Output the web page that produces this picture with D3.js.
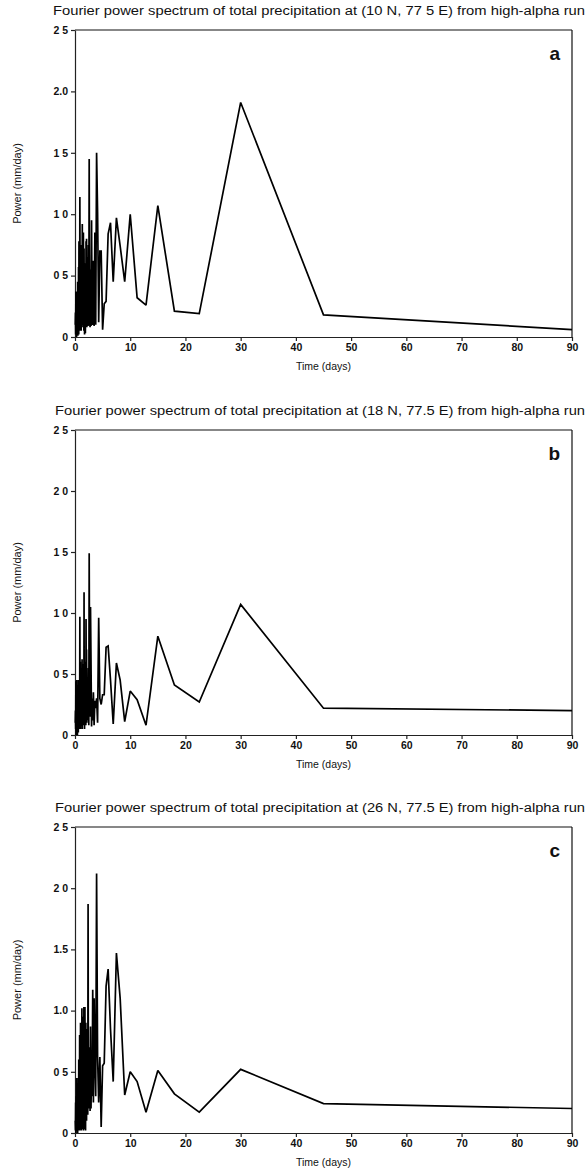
<!DOCTYPE html>
<html>
<head>
<meta charset="utf-8">
<script src="https://cdn.jsdelivr.net/npm/d3@7"></script>
<style>
  html, body { margin: 0; padding: 0; background: #fff; }
  svg { display: block; }
  text { font-family: "Liberation Sans", Arial, Helvetica, sans-serif; fill: #111; }
</style>
</head>
<body>
<svg id="chart" width="587" height="1170"></svg>
<script>
// ---------- DATA ----------
const periods = [90, 45, 30, 22.5, 18, 15, 12.86, 11.25, 10, 9,
  8.18, 7.5, 6.92, 6.43, 6, 5.63, 5.29, 5, 4.74, 4.5,
  4.29, 4.09, 3.91, 3.75, 3.6, 3.46, 3.33, 3.21, 3.1, 3,
  2.9, 2.81, 2.73, 2.65, 2.57, 2.5, 2.43, 2.37, 2.31, 2.25,
  2.2, 2.14, 2.09, 2.05, 2, 1.96, 1.91, 1.88, 1.84, 1.8,
  1.76, 1.73, 1.7, 1.67, 1.64, 1.61, 1.58, 1.55, 1.52, 1.5,
  1.45, 1.4, 1.36, 1.32, 1.28, 1.25, 1.2, 1.16, 1.12, 1.08,
  1.05, 1, 0.96, 0.92, 0.88, 0.84, 0.8, 0.76, 0.72, 0.68,
  0.64, 0.6, 0.56, 0.52, 0.48, 0.44, 0.4, 0.36, 0.32, 0.28,
  0.24, 0.2, 0.16, 0.12, 0.08, 0.04];

const powerA = [0.06, 0.18, 1.91, 0.19, 0.21, 1.07, 0.26, 0.32, 1.00, 0.45,
  0.74, 0.97, 0.45, 0.93, 0.84, 0.29, 0.27, 0.06, 0.70, 0.70,
  0.12, 1.02, 1.50, 0.10, 0.85, 0.09, 0.62, 0.10, 0.12, 0.95,
  0.09, 0.55, 0.08, 0.12, 1.45, 0.10, 0.75, 0.09, 0.40, 0.11,
  0.65, 0.08, 0.80, 0.12, 0.78, 0.10, 0.45, 0.03, 0.60, 0.15,
  0.35, 0.02, 0.55, 0.20, 0.72, 0.05, 0.40, 0.18, 0.85, 0.10,
  0.55, 0.22, 0.30, 0.92, 0.08, 0.48, 0.15, 0.75, 0.05, 0.35,
  0.18, 0.60, 0.12, 0.55, 1.14, 0.05, 0.50, 0.10, 0.78, 0.02,
  0.57, 0.08, 0.30, 0.01, 0.45, 0.05, 0.25, 0.02, 0.35, 0.00,
  0.28, 0.05, 0.37, 0.02, 0.20, 0.10];

const powerB = [0.20, 0.22, 1.07, 0.27, 0.41, 0.81, 0.08, 0.29, 0.36, 0.11,
  0.45, 0.59, 0.09, 0.45, 0.73, 0.72, 0.33, 0.33, 0.25, 0.30,
  0.96, 0.10, 0.30, 0.22, 0.28, 0.08, 0.35, 0.12, 0.30, 0.07,
  0.60, 1.05, 0.15, 0.40, 1.49, 0.08, 0.55, 0.12, 0.35, 0.20,
  0.45, 0.10, 0.70, 0.15, 0.95, 0.08, 0.40, 0.20, 0.60, 0.12,
  0.50, 0.05, 0.45, 0.15, 1.17, 0.20, 0.58, 0.08, 0.35, 0.25,
  0.55, 0.10, 0.40, 0.05, 0.62, 0.18, 0.30, 0.08, 0.45, 0.15,
  0.35, 0.05, 0.60, 0.20, 0.97, 0.10, 0.40, 0.05, 0.30, 0.15,
  0.45, 0.02, 0.30, 0.10, 0.40, 0.00, 0.25, 0.05, 0.45, 0.02,
  0.30, 0.00, 0.44, 0.05, 0.20, 0.10];

const powerC = [0.20, 0.24, 0.52, 0.17, 0.32, 0.51, 0.17, 0.42, 0.50, 0.31,
  1.10, 1.47, 0.42, 0.85, 1.34, 1.20, 0.57, 0.55, 0.05, 0.62,
  0.25, 0.62, 2.12, 0.30, 0.60, 1.10, 0.25, 1.17, 0.30, 0.55,
  0.20, 0.87, 0.18, 0.50, 0.25, 0.70, 0.20, 1.87, 0.15, 0.40,
  0.18, 0.85, 0.10, 0.60, 0.30, 0.90, 0.02, 0.55, 0.25, 1.03,
  0.03, 0.70, 0.20, 0.90, 0.05, 1.03, 0.15, 0.50, 0.02, 0.85,
  0.10, 0.95, 0.03, 0.60, 0.20, 1.02, 0.05, 0.70, 0.02, 0.85,
  0.10, 0.90, 0.03, 0.55, 0.15, 0.80, 0.02, 0.45, 0.10, 0.60,
  0.02, 0.45, 0.05, 0.35, 0.00, 0.40, 0.10, 0.20, 0.02, 0.45,
  0.05, 0.30, 0.00, 0.25, 0.02, 0.10];

const xTickValues = [0, 10, 20, 30, 40, 50, 60, 70, 80, 90];
const yTickValues = [0, 0.5, 1.0, 1.5, 2.0, 2.5];
const yTickLabelsA = ["0", "0 5", "1 0", "1 5", "2.0", "2 5"];
const yTickLabelsB = ["0", "0 5", "1 0", "1 5", "2 0", "2 5"];
const yTickLabelsC = ["0", "0 5", "1.0", "1.5", "2 0", "2 5"];

const titles = [
  "Fourier power spectrum of total precipitation at (10 N, 77 5 E) from high-alpha run",
  "Fourier power spectrum of total precipitation at (18 N, 77.5 E) from high-alpha run",
  "Fourier power spectrum of total precipitation at (26 N, 77.5 E) from high-alpha run"
];
const panelLetters = ["a", "b", "c"];
const xAxisTitle = "Time (days)";
const yAxisTitle = "Power (mm/day)";

// ---------- LAYOUT ----------
const svg = d3.select("#chart");
const left = 75, right = 572;
const layout = [
  { top: 30, bottom: 337, titleX: 53 },
  { top: 430, bottom: 735, titleX: 55 },
  { top: 827, bottom: 1133, titleX: 55 }
];
const seriesList = [powerA, powerB, powerC];
const yLabelsList = [yTickLabelsA, yTickLabelsB, yTickLabelsC];

const x = d3.scaleLinear().domain([0, 90]).range([left, right]);

layout.forEach((L, i) => {
  const g = svg.append("g");
  const y = d3.scaleLinear().domain([0, 2.5]).range([L.bottom, L.top]);

  // title
  g.append("text")
    .attr("x", L.titleX).attr("y", L.top - 15)
    .attr("font-size", 12.3)
    .attr("textLength", 587 - L.titleX - 2)
    .attr("lengthAdjust", "spacingAndGlyphs")
    .text(titles[i]);

  // frame top & right
  g.append("line").attr("x1", left).attr("x2", right).attr("y1", L.top).attr("y2", L.top)
    .attr("stroke", "#111").attr("stroke-width", 1.2);
  g.append("line").attr("x1", right).attr("x2", right).attr("y1", L.top).attr("y2", L.bottom)
    .attr("stroke", "#111").attr("stroke-width", 1.2);

  // y axis
  const yAxis = d3.axisLeft(y).tickValues(yTickValues)
    .tickFormat((d, k) => yLabelsList[i][k]).tickSize(4).tickSizeOuter(0);
  const ya = g.append("g").attr("transform", `translate(${left},0)`).call(yAxis);
  ya.selectAll("text").attr("font-size", 10.5).attr("font-weight", "bold")
    .attr("x", -7).style("font-family", "'Liberation Sans', Arial, sans-serif");
  ya.selectAll("path,line").attr("stroke", "#222").attr("stroke-width", 1.2);

  // x axis
  const xAxis = d3.axisBottom(x).tickValues(xTickValues).tickSize(4).tickSizeOuter(0)
    .tickFormat(d3.format("d"));
  const xa = g.append("g").attr("transform", `translate(0,${L.bottom})`).call(xAxis);
  xa.selectAll("text").attr("font-size", 10.5).attr("font-weight", "bold")
    .attr("y", 7).style("font-family", "'Liberation Sans', Arial, sans-serif");
  xa.selectAll("path,line").attr("stroke", "#222").attr("stroke-width", 1.2);

  // axis titles
  g.append("text").attr("x", (left + right) / 2).attr("y", L.bottom + 33)
    .attr("text-anchor", "middle").attr("font-size", 10.5).text(xAxisTitle);
  g.append("text")
    .attr("transform", `translate(21,${(L.top + L.bottom) / 2}) rotate(-90)`)
    .attr("text-anchor", "middle").attr("font-size", 11).text(yAxisTitle);

  // panel letter
  g.append("text").attr("x", 560).attr("y", L.top + 30)
    .attr("text-anchor", "end").attr("font-size", 19).attr("font-weight", "bold")
    .text(panelLetters[i]);

  // spectrum line
  const data = periods.map((p, k) => ({ p, v: seriesList[i][k] }));
  const line = d3.line().x(d => x(d.p)).y(d => y(d.v));
  g.append("path").datum(data)
    .attr("d", line)
    .attr("fill", "none").attr("stroke", "#000").attr("stroke-width", 1.7)
    .attr("stroke-linejoin", "miter").attr("stroke-miterlimit", 2);
});
</script>
</body>
</html>
